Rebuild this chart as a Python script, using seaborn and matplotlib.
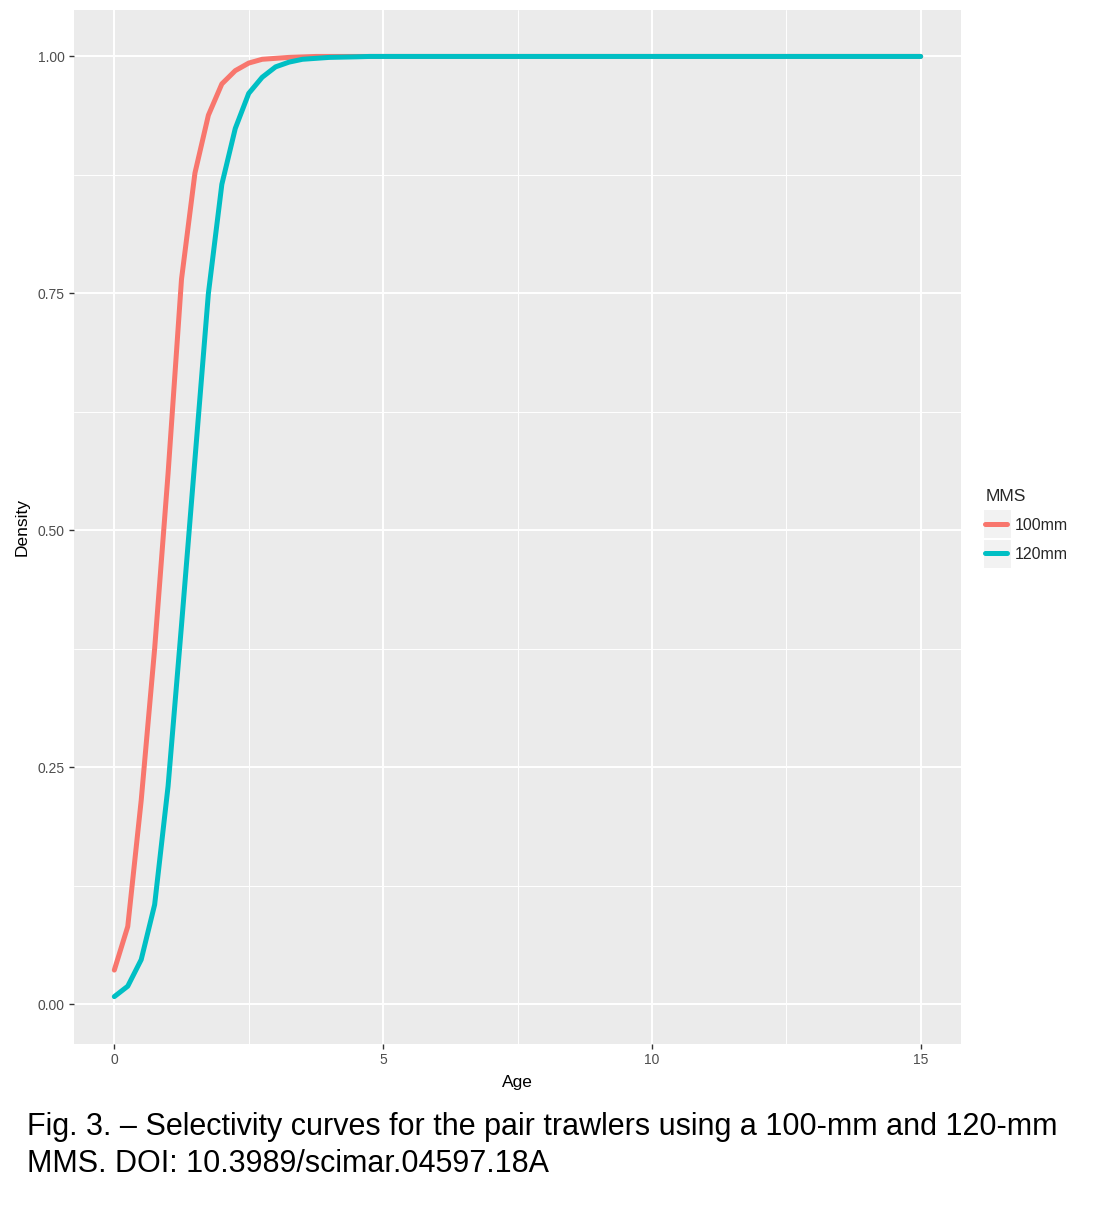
import pandas as pd
import seaborn as sns
import matplotlib.pyplot as plt
from matplotlib.patches import Rectangle

# values
ages = [0, 0.25, 0.5, 0.75, 1, 1.25, 1.5, 1.75, 2, 2.25, 2.5, 2.75, 3, 3.25,
        3.5, 3.75, 4, 4.25, 4.5, 4.75, 5, 6, 7, 8, 9, 10, 11, 12, 13, 14, 15]
sel_100 = [0.036, 0.082, 0.215, 0.375, 0.56, 0.765, 0.877, 0.938, 0.971, 0.985,
           0.993, 0.997, 0.998, 0.999, 0.9995, 1.0, 1.0, 1.0, 1.0, 1.0, 1.0,
           1.0, 1.0, 1.0, 1.0, 1.0, 1.0, 1.0, 1.0, 1.0, 1.0]
sel_120 = [0.008, 0.019, 0.047, 0.105, 0.23, 0.40, 0.575, 0.75, 0.865, 0.924,
           0.961, 0.978, 0.989, 0.994, 0.997, 0.998, 0.999, 0.9993, 0.9996, 1.0, 1.0,
           1.0, 1.0, 1.0, 1.0, 1.0, 1.0, 1.0, 1.0, 1.0, 1.0]
mms_labels = ["100mm", "120mm"]
x_ticks = [0, 5, 10, 15]
y_ticks = [0.00, 0.25, 0.50, 0.75, 1.00]
caption_lines = ["Fig. 3. \u2013 Selectivity curves for the pair trawlers using a 100-mm and 120-mm",
                 "MMS. DOI: 10.3989/scimar.04597.18A"]

df = pd.concat([
    pd.DataFrame({"Age": ages, "Density": sel_100, "MMS": mms_labels[0]}),
    pd.DataFrame({"Age": ages, "Density": sel_120, "MMS": mms_labels[1]}),
])

sns.set_theme(style="darkgrid")
plt.rcParams["font.family"] = ["Liberation Sans", "DejaVu Sans"]

fig = plt.figure(figsize=(11.02, 12.14), dpi=100)
ax = fig.add_axes([74 / 1102, 1 - 1044 / 1214, (961 - 74) / 1102, (1044 - 10) / 1214])
ax.set_facecolor("#EBEBEB")

sns.lineplot(data=df, x="Age", y="Density", hue="MMS",
             palette={"100mm": "#F8766D", "120mm": "#00BFC4"},
             linewidth=3.6, ax=ax, legend=True)

ax.set_xlim(-0.75, 15.75)
ax.set_ylim(-0.042, 1.049)
ax.set_xticks(x_ticks)
ax.set_xticklabels([str(t) for t in x_ticks])
ax.set_yticks(y_ticks)
ax.set_yticklabels([f"{t:.2f}" for t in y_ticks])
ax.set_xticks([2.5, 7.5, 12.5], minor=True)
ax.set_yticks([0.125, 0.375, 0.625, 0.875], minor=True)
ax.grid(which="major", color="white", linewidth=1.4)
ax.grid(which="minor", color="white", linewidth=0.7)
ax.tick_params(which="major", length=3.5, width=1, color="#333333",
               labelcolor="#4D4D4D", labelsize=10, pad=3, bottom=True, left=True)
ax.tick_params(which="minor", length=0)
for s in ax.spines.values():
    s.set_visible(False)
ax.set_xlabel("Age", fontsize=12.5, color="black", labelpad=6)
ax.set_ylabel("Density", fontsize=12.5, color="black", labelpad=6)

handles, labels = ax.get_legend_handles_labels()
ax.get_legend().remove()
for y0 in (510, 540):
    fig.patches.append(Rectangle((984 / 1102, 1 - (y0 + 28) / 1214), 27 / 1102, 28 / 1214,
                                 transform=fig.transFigure, facecolor="#F2F2F2",
                                 edgecolor="none", zorder=0))
leg = fig.legend(handles, labels, title="MMS", loc="upper left",
                 bbox_to_anchor=(971 / 1102, 1 - 475 / 1214), frameon=False,
                 fontsize=11.5, title_fontsize=12.5, handlelength=1.35,
                 handletextpad=0.5, labelspacing=0.85)
leg._legend_box.align = "left"
for h in leg.get_lines():
    h.set_linewidth(3.6)

for i, line in enumerate(caption_lines):
    fig.text(27 / 1102, 1 - (1135 + 37 * i) / 1214, line, fontsize=22,
             va="baseline", ha="left", color="black")

fig.savefig("out.png", dpi=100)
